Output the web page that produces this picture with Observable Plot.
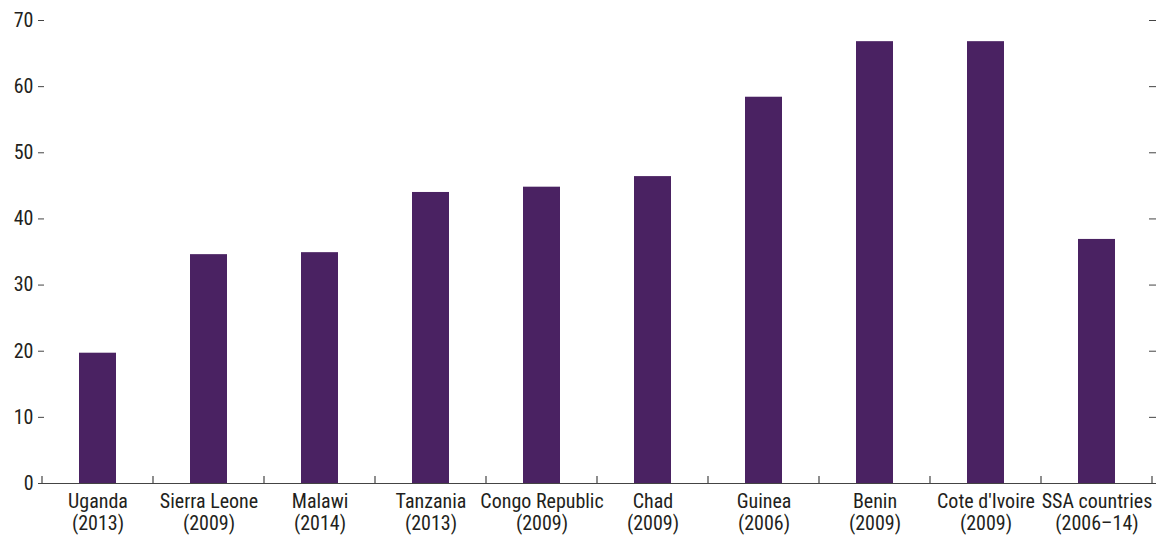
<!DOCTYPE html>
<html>
<head>
<meta charset="utf-8">
<script src="https://cdn.jsdelivr.net/npm/d3@7"></script>
<script src="https://cdn.jsdelivr.net/npm/@observablehq/plot@0.6"></script>
<style>
  html, body { margin: 0; padding: 0; background: #fff; }
  #chart svg { display: block; }
</style>
</head>
<body>
<div id="chart"></div>
<script>
const countries = ["Uganda", "Sierra Leone", "Malawi", "Tanzania", "Congo Republic", "Chad", "Guinea", "Benin", "Cote d'Ivoire", "SSA countries"];
const years = ["(2013)", "(2009)", "(2014)", "(2013)", "(2009)", "(2009)", "(2006)", "(2009)", "(2009)", "(2006\u201314)"];
const values = [19.7, 34.6, 34.9, 44.0, 44.8, 46.4, 58.4, 66.8, 66.8, 36.9];
const yTicks = [0, 10, 20, 30, 40, 50, 60, 70];

const labels = countries.map((c, i) => c + "\n" + years[i]);
const data = labels.map((l, i) => ({label: l, value: values[i]}));

const font = "'Liberation Sans Narrow', 'Arial Narrow', 'Roboto Condensed', 'Liberation Sans', sans-serif";
const ink = "#231f20";
const axisInk = "#444";

const plot = Plot.plot({
  width: 1158,
  height: 541,
  marginLeft: 38,
  marginRight: 3,
  marginTop: 20,
  marginBottom: 58,
  style: {fontFamily: font, fontSize: "20px", color: ink, background: "white", overflow: "visible"},
  x: {domain: labels, padding: 0, axis: null},
  y: {domain: [0, 70], axis: null},
  marks: [
    Plot.barY(data, {x: "label", y: "value", fill: "#4a2262", insetLeft: 37, insetRight: 37}),
    Plot.ruleY([0], {stroke: axisInk, strokeWidth: 1.2}),
    Plot.axisY({ticks: yTicks, anchor: "left", tickSize: 0, tickPadding: 5, label: null, fill: ink, fontSize: 20}),
    Plot.axisY({ticks: yTicks, anchor: "left", tickSize: -6, tickFormat: () => "", label: null, stroke: axisInk}),
    Plot.axisY({ticks: yTicks, anchor: "right", tickSize: -7, tickFormat: () => "", label: null, stroke: axisInk}),
    Plot.axisX({tickSize: 0, tickPadding: 9, label: null, lineHeight: 1.1, fill: ink, fontSize: 20})
  ]
});

// boundary ticks between categories, from the library's band scale
const xs = plot.scale("x");
const ys = plot.scale("y");
const y0 = ys.apply(0);
const bounds = labels.map(l => xs.apply(l)).concat([xs.apply(labels[labels.length - 1]) + xs.bandwidth]);
d3.select(plot).append("g")
  .attr("stroke", axisInk)
  .attr("stroke-width", 1.2)
  .selectAll("line")
  .data(bounds)
  .join("line")
  .attr("x1", d => d).attr("x2", d => d)
  .attr("y1", y0).attr("y2", y0 - 7);

document.getElementById("chart").appendChild(plot);
</script>
</body>
</html>
